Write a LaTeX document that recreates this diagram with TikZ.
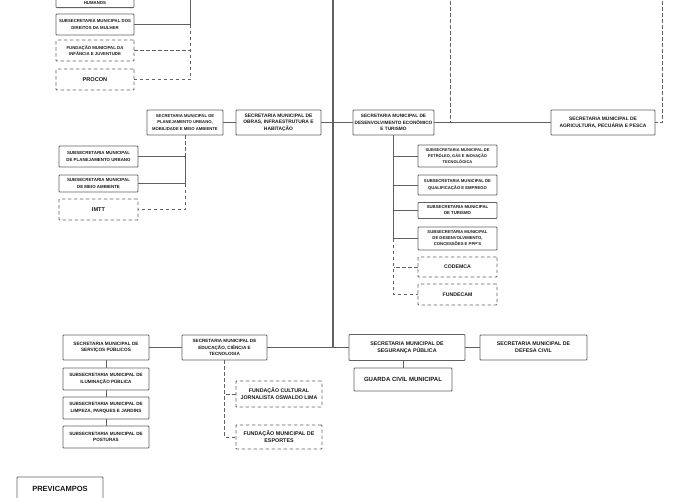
\documentclass[tikz,border=0pt]{standalone}
\usepackage{fontspec}
\setmainfont{Liberation Sans}
\begin{document}
\begin{tikzpicture}[x=1pt,y=-1pt,
    every node/.style={align=center,inner sep=0pt,text=black!90},
    fs/.style 2 args={font=\bfseries\fontsize{#1}{#2}\selectfont},
    wh/.style 2 args={minimum width=#1pt,minimum height=#2pt},
    secbox/.style={draw=black!62,line width=0.8pt,rounded corners=0.7pt,fill=white},
    fundbox/.style={secbox,dash pattern=on 3.5pt off 2.5pt},
    mainline/.style={black!62,line width=1.9pt},
    barline/.style={black!62,line width=1.5pt},
    subline/.style={black!62,line width=0.8pt},
    dashline/.style={subline,dash pattern=on 3.5pt off 2.5pt}]
    \useasboundingbox (0,0) rectangle (686,498);
    \clip (0,0) rectangle (686,498);
    \node[secbox,fs={4.3}{6.3},anchor=south,inner ysep=3.2pt,text height=20pt,minimum width=78pt] (dh) at (95,8) {HUMANOS};
    \node[secbox,fs={4.3}{6.3},wh={78}{21}] (mulher) at (95,24.5) {SUBSECRETARIA MUNICIPAL DOS\\DIREITOS DA MULHER};
    \node[fundbox,fs={4.3}{6.3},wh={78}{21}] (infancia) at (95,50.5) {FUNDAÇÃO MUNICIPAL DA\\INFÂNCIA E JUVENTUDE};
    \node[fundbox,fs={5.6}{7},wh={78}{21}] (procon) at (95,79.5) {PROCON};
    \node[secbox,fs={4.2}{6.4},wh={76}{25}] (plan) at (185,122.5) {SECRETARIA MUNICIPAL DE\\PLANEJAMENTO URBANO,\\MOBILIDADE E MEIO AMBIENTE};
    \node[secbox,fs={4.9}{6.5},wh={85}{25}] (obras) at (278.5,122.5) {SECRETARIA MUNICIPAL DE\\OBRAS, INFRAESTRUTURA E\\HABITAÇÃO};
    \node[secbox,fs={4.7}{6.5},wh={81}{25}] (desenv) at (393.5,122.5) {SECRETARIA MUNICIPAL DE\\DESENVOLVIMENTO ECONÔMICO\\E TURISMO};
    \node[secbox,fs={4.9}{6.8},wh={104}{25}] (agri) at (603,122.5) {SECRETARIA MUNICIPAL DE\\AGRICULTURA, PECUÁRIA E PESCA};
    \node[secbox,fs={4.4}{6.3},wh={79}{21}] (subplan) at (98.5,156.5) {SUBSECRETARIA MUNICIPAL\\DE PLANEJAMENTO URBANO};
    \node[secbox,fs={4.4}{6.3},wh={79}{17}] (submeio) at (98.5,183.5) {SUBSECRETARIA MUNICIPAL\\DE MEIO AMBIENTE};
    \node[fundbox,fs={5.6}{7},wh={79}{21}] (imtt) at (98.5,209.5) {IMTT};
    \node[secbox,fs={4}{5.7},wh={79}{22}] (petro) at (457.5,156) {SUBSECRETARIA MUNICIPAL DE\\PETRÓLEO, GÁS E INOVAÇÃO\\TECNOLÓGICA};
    \node[secbox,fs={4.2}{6.2},wh={79}{20}] (qualif) at (457.5,185) {SUBSECRETARIA MUNICIPAL DE\\QUALIFICAÇÃO E EMPREGO};
    \node[secbox,fs={4.3}{6},wh={79}{16}] (turismo) at (457.5,210.5) {SUBSECRETARIA MUNICIPAL\\DE TURISMO};
    \node[secbox,fs={4.2}{6},wh={79}{23}] (desconc) at (457.5,238.5) {SUBSECRETARIA MUNICIPAL\\DE DESENVOLVIMENTO,\\CONCESSÕES E PPP'S};
    \node[fundbox,fs={5.2}{7},wh={79}{20}] (codemca) at (457.5,267) {CODEMCA};
    \node[fundbox,fs={5.2}{7},wh={79}{21}] (fundecam) at (457.5,294.5) {FUNDECAM};
    \node[secbox,fs={4.7}{6.6},wh={86}{25}] (serv) at (106,347.5) {SECRETARIA MUNICIPAL DE\\SERVIÇOS PÚBLICOS};
    \node[secbox,fs={4.6}{6.4},wh={85}{25}] (educ) at (224.5,347.5) {SECRETARIA MUNICIPAL DE\\EDUCAÇÃO, CIÊNCIA E\\TECNOLOGIA};
    \node[secbox,fs={5.3}{6.8},wh={116}{26}] (seg) at (407,347.5) {SECRETARIA MUNICIPAL DE\\SEGURANÇA PÚBLICA};
    \node[secbox,fs={5.3}{6.8},wh={107}{25}] (defesa) at (533.5,347.5) {SECRETARIA MUNICIPAL DE\\DEFESA CIVIL};
    \node[secbox,fs={6}{7},wh={98}{23}] (guarda) at (403,379.5) {GUARDA CIVIL MUNICIPAL};
    \node[secbox,fs={4.6}{6.6},wh={86}{22}] (ilum) at (106,379) {SUBSECRETARIA MUNICIPAL DE\\ILUMINAÇÃO PÚBLICA};
    \node[secbox,fs={4.6}{6.6},wh={86}{22}] (limpeza) at (106,408) {SUBSECRETARIA MUNICIPAL DE\\LIMPEZA, PARQUES E JARDINS};
    \node[secbox,fs={4.6}{6.6},wh={86}{22}] (posturas) at (106,437) {SUBSECRETARIA MUNICIPAL DE\\POSTURAS};
    \node[fundbox,fs={5.3}{7},wh={86}{26}] (fcult) at (279,394) {FUNDAÇÃO CULTURAL\\JORNALISTA OSWALDO LIMA};
    \node[fundbox,fs={5.4}{7},wh={86}{24}] (fesp) at (279,437) {FUNDAÇÃO MUNICIPAL DE\\ESPORTES};
    \node[secbox,fs={7.5}{8},wh={86}{24}] (previ) at (60,489) {PREVICAMPOS};
    \coordinate (ta) at (190,-20);
    \coordinate (tc) at (333,-5);
    \coordinate (td) at (450,-5);
    \coordinate (te) at (662,-5);
    \draw[mainline] (tc) -- (tc |- seg.west);
    \draw[barline] (plan) -- (obras) -- (desenv) -- (agri);
    \draw[barline] (serv) -- (educ) -- (seg) -- (defesa);
    \draw[dashline] (td) -- (td |- agri.west);
    \draw[dashline] (te) |- (agri);
    \draw[subline] (dh) -- (dh -| ta);
    \draw[subline] (ta) |- (mulher);
    \draw[dashline] (mulher -| ta) |- (procon);
    \draw[dashline] (infancia) -- (infancia -| ta);
    \draw[dashline] (plan) -- (plan |- subplan.east);
    \draw[subline] (subplan) -- (subplan -| plan) -- (submeio -| plan) -- (submeio);
    \draw[dashline] (submeio -| plan) |- (imtt);
    \draw[subline] (desenv) -- (desenv |- desconc.east);
    \foreach \s in {petro,qualif,turismo,desconc}
        \draw[subline] (\s) -- (\s -| desenv);
    \draw[dashline] (desconc -| desenv) |- (fundecam);
    \draw[dashline] (codemca) -- (codemca -| desenv);
    \draw[subline] (serv) -- (ilum) -- (limpeza) -- (posturas);
    \draw[dashline] (educ) |- (fesp);
    \draw[dashline] (fcult) -- (fcult -| educ);
    \draw[subline] (guarda) -- (guarda |- seg.south);
\end{tikzpicture}
\end{document}
